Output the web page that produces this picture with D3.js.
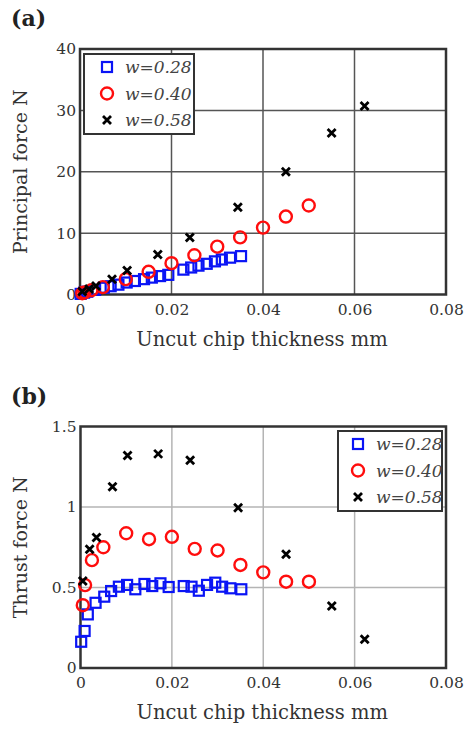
<!DOCTYPE html>
<html>
<head>
<meta charset="utf-8">
<script src="https://cdn.jsdelivr.net/npm/d3@7"></script>
<style>
  body { margin: 0; background: #fff; }
  svg text { font-family: 'DejaVu Serif', serif; }
</style>
</head>
<body>
<svg id="chart" width="467" height="729"></svg>
<script>
var xTicks = [0, 0.02, 0.04, 0.06, 0.08];
var principalTicks = [0, 10, 20, 30, 40];
var thrustTicks = [0, 0.5, 1, 1.5];
var seriesNames = ['w=0.28', 'w=0.40', 'w=0.58'];

/* w=0.28 */
var thickness28 = [0.00015, 0.0009, 0.0016, 0.0033, 0.0052, 0.0067, 0.0084, 0.0102, 0.012, 0.014, 0.0157,
  0.0175, 0.0193, 0.0226, 0.0243, 0.0259, 0.0277, 0.0295, 0.031, 0.0328, 0.0352];
var principal28 = [0.1, 0.3, 0.45, 0.75, 1.1, 1.35, 1.6, 1.95, 2.2, 2.5, 2.75,
  3.0, 3.2, 4.05, 4.4, 4.7, 5.0, 5.4, 5.7, 6.0, 6.25];
var thrust28 = [0.163, 0.23, 0.333, 0.405, 0.443, 0.478, 0.505, 0.516, 0.489, 0.522, 0.509,
  0.526, 0.503, 0.509, 0.505, 0.48, 0.516, 0.53, 0.505, 0.495, 0.489];

/* w=0.40 */
var thickness40 = [0.0005, 0.001, 0.0025, 0.005, 0.01, 0.015, 0.02, 0.025, 0.03, 0.035, 0.04, 0.045, 0.05];
var principal40 = [0.2, 0.35, 0.7, 1.2, 2.5, 3.7, 5.1, 6.4, 7.8, 9.3, 10.9, 12.7, 14.5];
var thrust40 = [0.39, 0.515, 0.67, 0.75, 0.837, 0.80, 0.815, 0.74, 0.73, 0.64, 0.594, 0.536, 0.536];

/* w=0.58 */
var thickness58 = [0.0005, 0.002, 0.0035, 0.007, 0.0103, 0.017, 0.024, 0.0345, 0.045, 0.055, 0.0622];
var principal58 = [0.5, 0.9, 1.4, 2.5, 3.9, 6.5, 9.3, 14.2, 20.0, 26.3, 30.7];
var thrust58 = [0.54, 0.737, 0.81, 1.126, 1.32, 1.33, 1.29, 0.996, 0.706, 0.385, 0.178];

var svg = d3.select('#chart');

function toPoints(xs, ys) {
  return xs.map(function(x, i) { return { x: x, y: ys[i] }; });
}

/* draws one marker of the given kind centred on 0,0 */
function drawMarker(sel, kind) {
  if(kind === 'square') {
    sel.append('rect')
      .attr('x', -5).attr('y', -5)
      .attr('width', 10).attr('height', 10)
      .attr('fill', 'none')
      .attr('stroke', '#0a14f5')
      .attr('stroke-width', 2.2);
  } else if(kind === 'circle') {
    sel.append('circle')
      .attr('r', 6)
      .attr('fill', 'none')
      .attr('stroke', '#ff0d0d')
      .attr('stroke-width', 2.4);
  } else {
    sel.append('path')
      .attr('d', 'M-4,-4L4,4M-4,4L4,-4')
      .attr('stroke', '#000')
      .attr('stroke-width', 2.8);
  }
}

function drawPanel(opts) {
  var x = d3.scaleLinear().domain([0, 0.08]).range([opts.left, opts.right]);
  var y = d3.scaleLinear().domain(opts.yDomain).range([opts.bottom, opts.top]);
  var g = svg.append('g');

  /* panel letter */
  g.append('text')
    .attr('x', 11).attr('y', opts.top - 23)
    .attr('font-size', 22).attr('font-weight', 'bold')
    .attr('fill', '#222')
    .text(opts.letter);

  /* grid */
  g.append('g').selectAll('line')
    .data(xTicks.slice(1, -1))
    .enter().append('line')
      .attr('x1', function(d) { return x(d); })
      .attr('x2', function(d) { return x(d); })
      .attr('y1', opts.top).attr('y2', opts.bottom)
      .attr('stroke', opts.gridColor).attr('stroke-width', 1.5);
  g.append('g').selectAll('line')
    .data(opts.yTicks.slice(1, -1))
    .enter().append('line')
      .attr('x1', opts.left).attr('x2', opts.right)
      .attr('y1', function(d) { return y(d); })
      .attr('y2', function(d) { return y(d); })
      .attr('stroke', opts.gridColor).attr('stroke-width', 1.5);

  /* frame */
  g.append('rect')
    .attr('x', opts.left).attr('y', opts.top)
    .attr('width', opts.right - opts.left)
    .attr('height', opts.bottom - opts.top)
    .attr('fill', 'none')
    .attr('stroke', '#333').attr('stroke-width', 2.5);

  /* axes, ticks drawn by d3 then lines hidden */
  var xAxis = d3.axisBottom(x).tickValues(xTicks).tickSize(0).tickPadding(9)
    .tickFormat(d3.format('~g'));
  var gx = g.append('g')
    .attr('transform', 'translate(0,' + opts.bottom + ')')
    .call(xAxis);
  var yAxis = d3.axisLeft(y).tickValues(opts.yTicks).tickSize(0).tickPadding(4)
    .tickFormat(d3.format('~g'));
  var gy = g.append('g')
    .attr('transform', 'translate(' + opts.left + ',0)')
    .call(yAxis);
  [gx, gy].forEach(function(a) {
    a.select('.domain').remove();
    a.selectAll('text')
      .attr('font-family', "'DejaVu Serif', serif")
      .attr('font-size', 15.5)
      .attr('fill', '#333');
  });

  /* axis titles */
  g.append('text')
    .attr('x', (opts.left + opts.right) / 2 - 1)
    .attr('y', opts.bottom + 51)
    .attr('text-anchor', 'middle')
    .attr('font-size', 19.5).attr('fill', '#333')
    .text('Uncut chip thickness mm');
  g.append('text')
    .attr('transform', 'translate(27,' + ((opts.top + opts.bottom) / 2) + ') rotate(-90)')
    .attr('text-anchor', 'middle')
    .attr('font-size', 19).attr('fill', '#333')
    .text(opts.yLabel);

  /* points */
  var kinds = ['square', 'circle', 'cross'];
  opts.series.forEach(function(s, i) {
    g.append('g').selectAll('g')
      .data(s)
      .enter().append('g')
        .attr('transform', function(d) {
          return 'translate(' + x(d.x) + ',' + y(d.y) + ')';
        })
        .each(function() { drawMarker(d3.select(this), kinds[i]); });
  });

  /* legend */
  var lg = g.append('g')
    .attr('transform', 'translate(' + opts.legend[0] + ',' + opts.legend[1] + ')');
  lg.append('rect')
    .attr('width', opts.legend[2]).attr('height', 80)
    .attr('fill', '#fff')
    .attr('stroke', '#333').attr('stroke-width', 2);
  seriesNames.forEach(function(name, i) {
    var row = lg.append('g').attr('transform', 'translate(0,' + (13 + i * 26.5) + ')');
    var m = row.append('g').attr('transform', 'translate(' + opts.legend[3] + ',0)');
    drawMarker(m, kinds[i]);
    row.append('text')
      .attr('x', opts.legend[3] + 18).attr('y', 6)
      .attr('font-size', 17).attr('font-style', 'italic')
      .attr('fill', '#444')
      .text(name);
  });
}

drawPanel({
  letter: '(a)',
  left: 80, right: 446, top: 49, bottom: 294.5,
  yDomain: [0, 40], yTicks: principalTicks,
  yLabel: 'Principal force N',
  gridColor: '#555',
  legend: [84, 54, 110, 23],
  series: [toPoints(thickness28, principal28), toPoints(thickness40, principal40),
    toPoints(thickness58, principal58)]
});

drawPanel({
  letter: '(b)',
  left: 80.5, right: 446, top: 426.5, bottom: 668,
  yDomain: [0, 1.5], yTicks: thrustTicks,
  yLabel: 'Thrust force N',
  gridColor: '#b4b4b4',
  legend: [338, 431, 104, 20],
  series: [toPoints(thickness28, thrust28), toPoints(thickness40, thrust40),
    toPoints(thickness58, thrust58)]
});
</script>
</body>
</html>
